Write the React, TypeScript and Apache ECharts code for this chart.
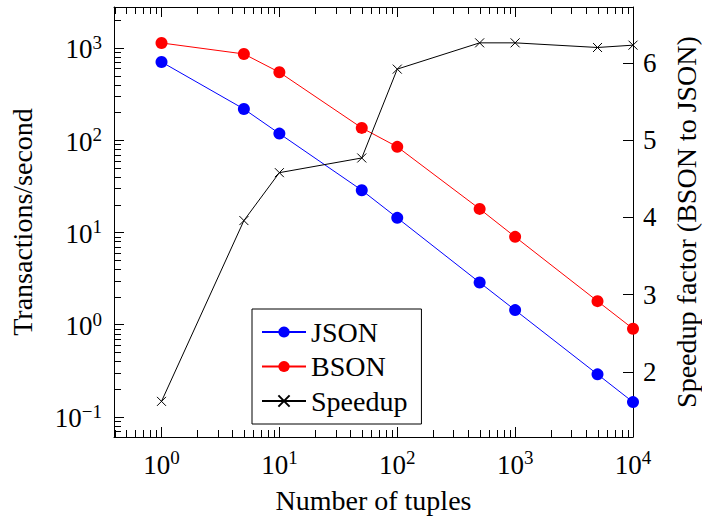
import { useEffect, useRef } from "react";
import * as echarts from "echarts";

// Number of tuples per transaction (x) and measured throughput (transactions/second)
const TUPLES = [1, 5, 10, 50, 100, 500, 1000, 5000, 10000];
const JSON_TPS = [705, 218, 118, 28.7, 14.4, 2.87, 1.44, 0.29, 0.145];
const BSON_TPS = [1133, 861, 545, 136, 84.8, 18.0, 8.96, 1.8, 0.905];
// Speedup factor of BSON relative to JSON (right axis)
const SPEEDUP = [1.62, 3.96, 4.58, 4.77, 5.92, 6.26, 6.26, 6.2, 6.23];

const SERIES_NAMES = ["JSON", "BSON", "Speedup"];
const X_TITLE = "Number of tuples";
const Y_TITLE = "Transactions/second";
const Y2_TITLE = "Speedup factor (BSON to JSON)";

// Axis extents, as decimal exponents for the two log axes
const X_RANGE = [-0.403, 4];
const Y_RANGE = [-1.217, 3.444];
const SPEEDUP_RANGE = [1.159, 6.724];

// Decades and mantissas used for the minor ticks of the log axes
const X_DECADES = [-1, 0, 1, 2, 3];
const Y_DECADES = [-2, -1, 0, 1, 2, 3];
const MINOR_STEPS = [2, 3, 4, 5, 6, 7, 8, 9];

const FONT = "Liberation Serif";
const BLACK = "#000";

const minorTicks = (decades: number[], range: number[]) =>
  decades
    .flatMap((d) => MINOR_STEPS.map((s) => Math.log10(s * Math.pow(10, d))))
    .filter((v) => v > range[0] && v < range[1]);

const powerLabel = (v: number) => {
  if (Math.abs(v - Math.round(v)) > 1e-6) return "";
  const e = Math.round(v);
  const exp = e < 0 ? "\u2212" + Math.abs(e) : String(e);
  return `{b|10}{s|${exp}}`;
};

const powerRich = {
  b: { fontFamily: FONT, fontSize: 27, lineHeight: 30, verticalAlign: "bottom", color: BLACK },
  s: { fontFamily: FONT, fontSize: 19, lineHeight: 16, verticalAlign: "top", color: BLACK },
};

const MINOR_LEN = 7;

const axisLine = { onZero: false, lineStyle: { color: BLACK, width: 1 } };
const axisTick = { inside: true, length: 10, lineStyle: { color: BLACK } };

export default function App() {
  const ref = useRef<HTMLDivElement>(null);

  useEffect(() => {
    if (!ref.current) return;
    const chart = echarts.init(ref.current, null, { renderer: "svg" });

    const toLog = (vals: number[]) => TUPLES.map((t, i) => [Math.log10(t), Math.log10(vals[i])]);

    const tickLine = (x1: number, y1: number, x2: number, y2: number) => ({
      type: "line",
      shape: { x1, y1, x2, y2 },
      style: { stroke: BLACK, lineWidth: 1 },
      silent: true,
    });

    const option: any = {
      animation: false,
      textStyle: { fontFamily: FONT },
      grid: {
        left: 114,
        top: 7,
        width: 519,
        height: 430,
        containLabel: false,
        outerBoundsMode: "none",
      },
      legend: {
        data: SERIES_NAMES,
        orient: "vertical",
        left: 252,
        top: 309,
        padding: [9, 14, 9, 9],
        itemWidth: 44,
        itemHeight: 14,
        itemGap: 6.5,
        backgroundColor: "#fff",
        borderColor: BLACK,
        borderWidth: 1,
        borderRadius: 0,
        textStyle: { fontFamily: FONT, fontSize: 28, lineHeight: 28, color: BLACK },
      },
      xAxis: [
        {
          type: "value",
          position: "bottom",
          min: X_RANGE[0],
          max: X_RANGE[1],
          splitLine: { show: false },
          axisLine,
          axisTick,
          axisLabel: { formatter: powerLabel, rich: powerRich, margin: 11, color: BLACK },
          name: X_TITLE,
          nameLocation: "middle",
          nameGap: 49,
          nameTextStyle: { fontFamily: FONT, fontSize: 28, lineHeight: 28, color: BLACK },
        },
        {
          type: "value",
          position: "top",
          min: X_RANGE[0],
          max: X_RANGE[1],
          splitLine: { show: false },
          axisLine,
          axisTick,
          axisLabel: { show: false },
        },
      ],
      yAxis: [
        {
          type: "value",
          position: "left",
          min: Y_RANGE[0],
          max: Y_RANGE[1],
          splitLine: { show: false },
          axisLine,
          axisTick,
          axisLabel: { formatter: powerLabel, rich: powerRich, margin: 12, color: BLACK },
          name: Y_TITLE,
          nameLocation: "middle",
          nameGap: 78,
          nameRotate: 90,
          nameTextStyle: { fontFamily: FONT, fontSize: 28, color: BLACK },
        },
        {
          type: "value",
          position: "right",
          min: SPEEDUP_RANGE[0],
          max: SPEEDUP_RANGE[1],
          splitLine: { show: false },
          axisLine,
          axisTick,
          axisLabel: {
            formatter: (v: number) => (Math.abs(v - Math.round(v)) < 1e-6 ? String(Math.round(v)) : ""),
            fontFamily: FONT,
            fontSize: 27,
            margin: 10,
            color: BLACK,
          },
          name: Y2_TITLE,
          nameLocation: "middle",
          nameGap: 39,
          nameRotate: 90,
          nameTextStyle: { fontFamily: FONT, fontSize: 28, lineHeight: 28, color: BLACK },
        },
      ],
      series: [
        {
          name: "JSON",
          type: "line",
          xAxisIndex: 0,
          yAxisIndex: 0,
          data: toLog(JSON_TPS),
          symbol: "circle",
          symbolSize: 12,
          lineStyle: { color: "#0000ff", width: 1 },
          itemStyle: { color: "#0000ff" },
          z: 3,
        },
        {
          name: "BSON",
          type: "line",
          xAxisIndex: 0,
          yAxisIndex: 0,
          data: toLog(BSON_TPS),
          symbol: "circle",
          symbolSize: 12,
          lineStyle: { color: "#ff0000", width: 1 },
          itemStyle: { color: "#ff0000" },
          z: 3,
        },
        {
          name: "Speedup",
          type: "line",
          xAxisIndex: 0,
          yAxisIndex: 1,
          data: TUPLES.map((t, i) => [Math.log10(t), SPEEDUP[i]]),
          symbol: "path://M0 0L10 10M10 0L0 10",
          symbolSize: 9,
          lineStyle: { color: BLACK, width: 1 },
          itemStyle: { color: BLACK, borderColor: BLACK, borderWidth: 1 },
          z: 3,
        },
        {
          // minor ticks of the x axis, bottom and top edges
          type: "custom",
          xAxisIndex: 0,
          yAxisIndex: 0,
          silent: true,
          clip: false,
          data: minorTicks(X_DECADES, X_RANGE).map((v) => [v, Y_RANGE[0]]),
          renderItem: (params: any, api: any) => {
            const cs = params.coordSys;
            const x = Math.round(api.coord([api.value(0), Y_RANGE[0]])[0]) + 0.5;
            const bottom = cs.y + cs.height;
            return {
              type: "group",
              children: [
                tickLine(x, bottom, x, bottom - MINOR_LEN),
                tickLine(x, cs.y, x, cs.y + MINOR_LEN),
              ],
            };
          },
          z: 1,
        },
        {
          // minor ticks of the left axis
          type: "custom",
          xAxisIndex: 0,
          yAxisIndex: 0,
          silent: true,
          clip: false,
          data: minorTicks(Y_DECADES, Y_RANGE).map((v) => [X_RANGE[0], v]),
          renderItem: (params: any, api: any) => {
            const cs = params.coordSys;
            const y = Math.round(api.coord([X_RANGE[0], api.value(1)])[1]) + 0.5;
            return tickLine(cs.x, y, cs.x + MINOR_LEN, y);
          },
          z: 1,
        },
      ],
    };

    chart.setOption(option);
    return () => chart.dispose();
  }, []);

  return (
    <div
      ref={ref}
      style={{ position: "absolute", left: 0, top: 0, width: 702, height: 516, background: "#fff" }}
    />
  );
}
